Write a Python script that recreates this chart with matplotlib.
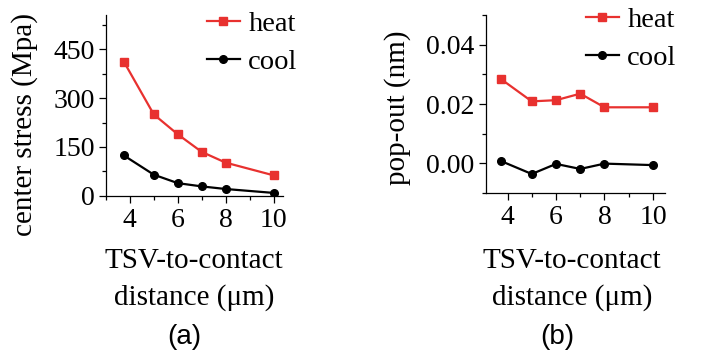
import matplotlib.pyplot as plt
from matplotlib.ticker import MultipleLocator

plt.rcParams['font.family'] = ['Liberation Serif', 'DejaVu Serif']

distance = [3.75, 5, 6, 7, 8, 10]
stress_heat = [412, 250, 189, 135, 102, 63]
stress_cool = [124, 65, 39, 29, 21, 9]
popout_heat = [0.0283, 0.0209, 0.0213, 0.0235, 0.0189, 0.0189]
popout_cool = [0.0007, -0.0036, -0.0002, -0.0019, -0.0001, -0.0006]

RED = '#e8312f'
TICK_FS = 20
LEG_FS = 20.5

fig = plt.figure(figsize=(7.06, 3.6), dpi=100)
ax1 = fig.add_axes([0.150, 0.456, 0.251, 0.502])
ax2 = fig.add_axes([0.688, 0.464, 0.254, 0.494])


def style(ax):
    for s in ('top', 'right'):
        ax.spines[s].set_visible(False)
    for s in ('left', 'bottom'):
        ax.spines[s].set_linewidth(0.9)
    ax.tick_params(which='major', direction='out', length=5, width=0.9,
                   labelsize=TICK_FS, pad=3)
    ax.tick_params(axis='x', which='major', pad=4)
    ax.tick_params(which='minor', direction='out', length=3, width=0.9)
    ax.xaxis.set_major_locator(MultipleLocator(2))
    ax.xaxis.set_minor_locator(MultipleLocator(1))


def plot_pair(ax, heat, cool):
    ax.plot(distance, heat, '-s', color=RED, lw=1.6, ms=5.5, label='heat')
    ax.plot(distance, cool, '-o', color='black', lw=1.6, ms=5.5, label='cool')


def add_legend(ax, x, y):
    ax.legend(loc='upper left', bbox_to_anchor=(x / 706, 1 - y / 360),
              bbox_transform=fig.transFigure, frameon=False, fontsize=LEG_FS,
              borderpad=0, handlelength=1.15, handletextpad=0.3,
              labelspacing=0.42, borderaxespad=0)


plot_pair(ax1, stress_heat, stress_cool)
style(ax1)
ax1.set_xlim(3.0, 10.4)
ax1.set_ylim(0, 555)
ax1.yaxis.set_major_locator(MultipleLocator(150))
ax1.yaxis.set_minor_locator(MultipleLocator(75))
ax1.set_xticks([4, 6, 8, 10])
add_legend(ax1, 207, 11)

plot_pair(ax2, popout_heat, popout_cool)
style(ax2)
ax2.set_xlim(3.1, 10.5)
ax2.set_ylim(-0.01, 0.05)
ax2.set_yticks([0.0, 0.02, 0.04])
ax2.set_yticklabels(['0.00', '0.02', '0.04'])
ax2.yaxis.set_minor_locator(MultipleLocator(0.01))
add_legend(ax2, 586, 7)

fig.text(25 / 706, 1 - 125 / 360, 'center stress (Mpa)', rotation=90,
         ha='center', va='center', fontsize=21)
fig.text(398 / 706, 1 - 108 / 360, 'pop-out (nm)', rotation=90,
         ha='center', va='center', fontsize=21)

for cx, tx, tag in ((194, 184, '(a)'), (572, 557, '(b)')):
    fig.text(cx / 706, 1 - 268 / 360, 'TSV-to-contact', ha='center',
             va='baseline', fontsize=21)
    fig.text(cx / 706, 1 - 305 / 360, 'distance (\u03bcm)', ha='center',
             va='baseline', fontsize=21)
    fig.text(tx / 706, 1 - 337 / 360, tag, ha='center', va='center',
             fontsize=20, family=['Liberation Sans', 'DejaVu Sans'])

fig.savefig('out.png', dpi=100)
